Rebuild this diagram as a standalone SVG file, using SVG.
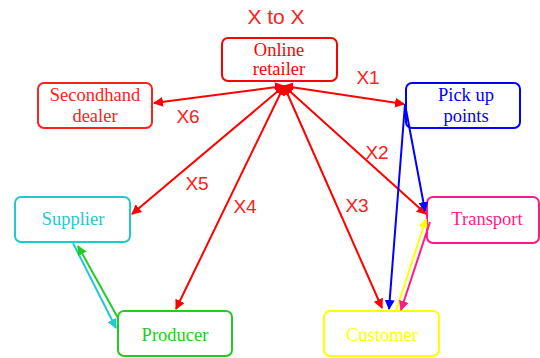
<svg xmlns="http://www.w3.org/2000/svg" width="540" height="358" viewBox="0 0 540 358">
<style>
.box{fill:#fff;stroke-width:2}
.t{font-family:"Liberation Serif",serif;font-size:18.5px;text-anchor:middle}
.lbl{font-family:"Liberation Sans",sans-serif;font-size:19px;fill:#ff2020;text-anchor:middle}
.c{fill:none;stroke-width:2}
</style>
<defs>
<marker id="ar" viewBox="0 0 10 10" refX="9" refY="5" markerWidth="5" markerHeight="5" orient="auto"><path d="M0,0L10,5L0,10z" fill="#ff0000"/></marker>
<marker id="ab" viewBox="0 0 10 10" refX="9" refY="5" markerWidth="5" markerHeight="5" orient="auto"><path d="M0,0L10,5L0,10z" fill="#0000ff"/></marker>
<marker id="ay" viewBox="0 0 10 10" refX="9" refY="5" markerWidth="5" markerHeight="5" orient="auto"><path d="M0,0L10,5L0,10z" fill="#ffff00"/></marker>
<marker id="ap" viewBox="0 0 10 10" refX="9" refY="5" markerWidth="5" markerHeight="5" orient="auto"><path d="M0,0L10,5L0,10z" fill="#ff1a8c"/></marker>
<marker id="ac" viewBox="0 0 10 10" refX="9" refY="5" markerWidth="5" markerHeight="5" orient="auto"><path d="M0,0L10,5L0,10z" fill="#22c8d0"/></marker>
<marker id="ag" viewBox="0 0 10 10" refX="9" refY="5" markerWidth="5" markerHeight="5" orient="auto"><path d="M0,0L10,5L0,10z" fill="#22cc22"/></marker>
<marker id="as" viewBox="0 0 10 10" refX="1" refY="5" markerWidth="5" markerHeight="5" orient="auto"><path d="M10,0L0,5L10,10z" fill="#ff0000"/></marker>
</defs>
<text class="lbl" x="276" y="24" style="font-size:21px">X to X</text>
<g id="online-retailer"><rect class="box" x="222" y="38" width="115" height="43" rx="6" stroke="#ff0000"/><text class="t" x="279" y="56" fill="#ff0000">Online</text><text class="t" x="279" y="75" fill="#ff0000">retailer</text></g>
<g id="secondhand-dealer"><rect class="box" x="38" y="83" width="114" height="45" rx="6" stroke="#ff2020"/><text class="t" x="95" y="101" fill="#ff2020">Secondhand</text><text class="t" x="95" y="122" fill="#ff2020">dealer</text></g>
<g id="pick-up-points"><rect class="box" x="406" y="83" width="114" height="45" rx="6" stroke="#0000ff"/><text class="t" x="466" y="101" fill="#0000ff">Pick up</text><text class="t" x="466" y="122" fill="#0000ff">points</text></g>
<g id="supplier"><rect class="box" x="15" y="197" width="115" height="45" rx="6" stroke="#22c8d0"/><text class="t" x="73" y="225" fill="#22c8d0">Supplier</text></g>
<g id="transport"><rect class="box" x="427" y="197" width="112" height="46" rx="6" stroke="#ff1a8c"/><text class="t" x="487" y="225" fill="#ff1a8c">Transport</text></g>
<g id="producer"><rect class="box" x="118" y="311" width="114" height="45" rx="6" stroke="#22cc22"/><text class="t" x="175" y="341" fill="#22cc22">Producer</text></g>
<g id="customer"><rect class="box" x="324" y="311" width="115" height="45" rx="6" stroke="#ffff00"/><text class="t" x="382" y="341" fill="#ffff00">Customer</text></g>
<g id="connectors">
<line class="c" stroke="#ff0000" x1="284" y1="86" x2="404" y2="104" marker-start="url(#as)" marker-end="url(#ar)"/>
<line class="c" stroke="#ff0000" x1="284" y1="86" x2="154" y2="103" marker-start="url(#as)" marker-end="url(#ar)"/>
<line class="c" stroke="#ff0000" x1="284" y1="86" x2="132" y2="214" marker-start="url(#as)" marker-end="url(#ar)"/>
<line class="c" stroke="#ff0000" x1="284" y1="86" x2="176" y2="309" marker-start="url(#as)" marker-end="url(#ar)"/>
<line class="c" stroke="#ff0000" x1="284" y1="86" x2="382" y2="308" marker-start="url(#as)" marker-end="url(#ar)"/>
<line class="c" stroke="#ff0000" x1="284" y1="86" x2="426" y2="214" marker-start="url(#as)" marker-end="url(#ar)"/>
<line class="c" stroke="#0000ff" x1="405" y1="104" x2="389" y2="309" marker-end="url(#ab)"/>
<line class="c" stroke="#0000ff" x1="405" y1="104" x2="425" y2="211" marker-end="url(#ab)"/>
<line class="c" stroke="#ffff00" x1="396" y1="311" x2="426" y2="219" marker-end="url(#ay)"/>
<line class="c" stroke="#ff1a8c" x1="430" y1="222" x2="401" y2="310" marker-end="url(#ap)"/>
<line class="c" stroke="#22c8d0" x1="73" y1="243" x2="116" y2="328" marker-end="url(#ac)"/>
<line class="c" stroke="#22cc22" x1="118" y1="318" x2="78" y2="246" marker-end="url(#ag)"/>
</g>
<text class="lbl" x="368" y="84">X1</text>
<text class="lbl" x="188" y="123">X6</text>
<text class="lbl" x="197" y="190">X5</text>
<text class="lbl" x="245" y="213">X4</text>
<text class="lbl" x="357" y="212">X3</text>
<text class="lbl" x="377" y="159">X2</text>
</svg>
